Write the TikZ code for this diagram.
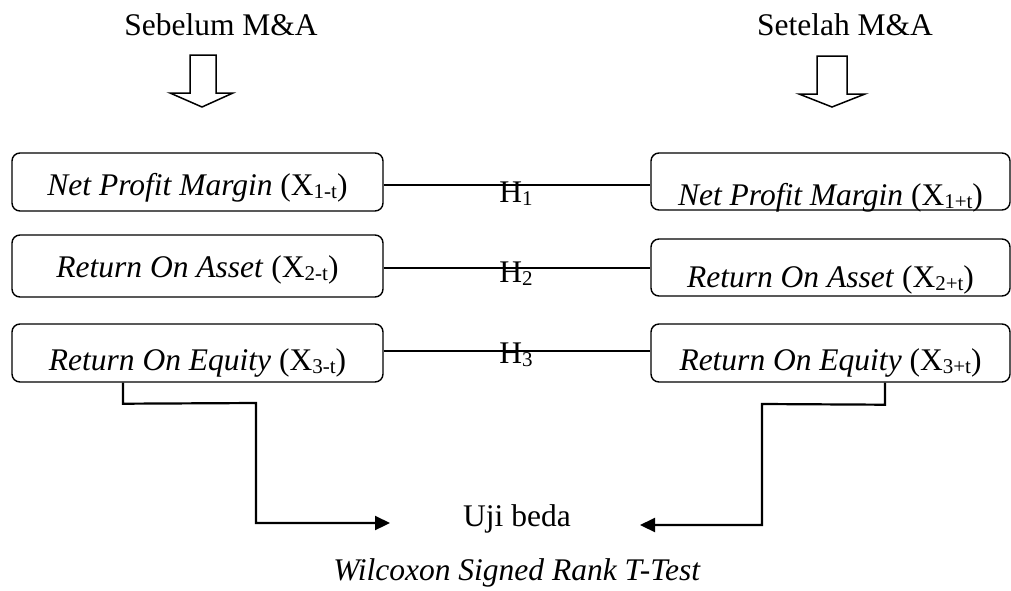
\documentclass[tikz,border=0pt]{standalone}
\usepackage{fontspec}
\setmainfont{Liberation Serif}
\usetikzlibrary{arrows.meta}
\newcommand{\subs}[1]{\raisebox{-3pt}{\fontsize{21}{21}\selectfont #1}}
\begin{document}
\begin{tikzpicture}[x=1pt,y=-1pt,
  every node/.style={font=\fontsize{31.5}{36}\selectfont, inner sep=0pt},
  boxL/.style={draw, line width=1.4pt, rounded corners=8pt, minimum width=371pt},
  boxR/.style={draw, line width=1.4pt, rounded corners=8pt, minimum width=359pt},
  hline/.style={line width=1.1pt},
  flow/.style={line width=2.2pt, -{Triangle[length=15pt,width=14pt]}},
  blockarrow/.style={line width=1.5pt, line join=miter},
  lbl/.style={anchor=base}
]
\useasboundingbox (0,0) rectangle (1011,590);

% headings
\node[lbl] (sebelum) at (221,35) {Sebelum M\&A};
\node[lbl] (setelah) at (845,35) {Setelah M\&A};

% block arrows
\draw[blockarrow] (190,55) -- (216,55) -- (216,93) -- (233,93) -- (202,107) -- (170,93) -- (190,93) -- cycle;
\draw[blockarrow] (817,56) -- (847,56) -- (847,94) -- (865,94) -- (832,107) -- (799,94) -- (817,94) -- cycle;

% left boxes (text height/depth put the baseline below centre)
\node[boxL, minimum height=58pt, text height=26pt, text depth=0pt] (L1) at (197.5,182) {\textit{Net Profit Margin} (X\subs{1-t})};
\node[boxL, minimum height=62pt, text height=22pt, text depth=0pt] (L2) at (197.5,266) {\textit{Return On Asset} (X\subs{2-t})};
\node[boxL, minimum height=58pt, text height=34pt, text depth=0pt] (L3) at (197.5,353) {\textit{Return On Equity} (X\subs{3-t})};

% right boxes
\node[boxR, minimum height=57pt, text height=47pt, text depth=0pt] (R1) at (830.5,181.5) {\textit{Net Profit Margin} (X\subs{1+t})};
\node[boxR, minimum height=57pt, text height=39pt, text depth=0pt] (R2) at (830.5,267.5) {\textit{Return On Asset} (X\subs{2+t})};
\node[boxR, minimum height=58pt, text height=34pt, text depth=0pt] (R3) at (830.5,353) {\textit{Return On Equity} (X\subs{3+t})};

% hypothesis lines
\draw[hline] ([yshift=-3pt]L1.east) -- ([yshift=-3.5pt]R1.west);
\draw[hline] ([yshift=-2pt]L2.east) -- ([yshift=-0.5pt]R2.west);
\draw[hline] ([yshift=2pt]L3.east) -- ([yshift=2pt]R3.west);
\node[lbl] (H1) at (516,202) {H\subs{1}};
\node[lbl] (H2) at (516,282) {H\subs{2}};
\node[lbl] (H3) at (516,363) {H\subs{3}};

% test
\node[lbl] (uji) at (517,526) {Uji beda};
\node[lbl] (wil) at (517,580) {\textit{Wilcoxon Signed Rank T-Test}};
\coordinate (tipL) at (390,523);
\coordinate (tipR) at (640,525);

\draw[flow] ([xshift=-74.5pt]L3.south) -- ++(0,21) -- (256,403) -- (256,523) -- (tipL);
\draw[flow] ([xshift=54.5pt]R3.south) -- ++(0,22) -- (762,404) -- (762,525) -- (tipR);
\end{tikzpicture}
\end{document}
